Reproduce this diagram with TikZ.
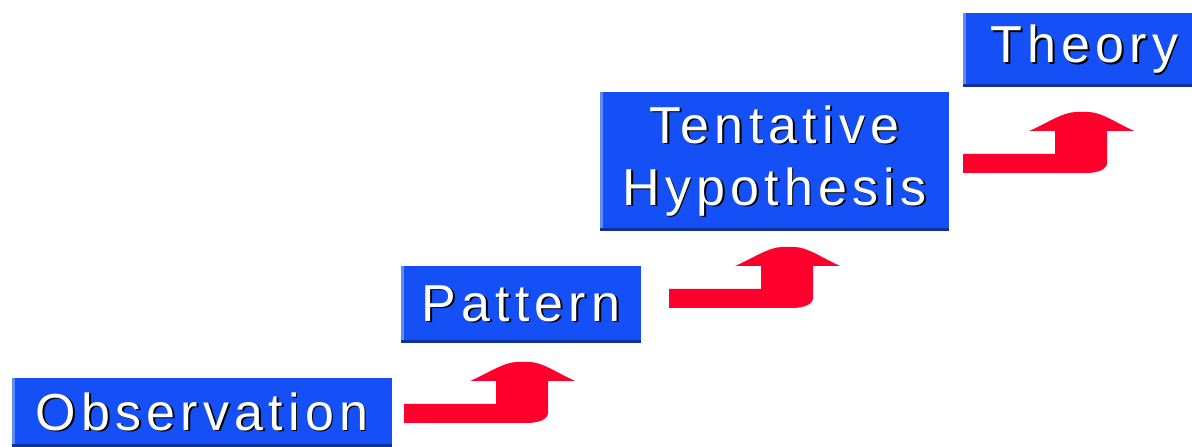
\documentclass[tikz,border=0pt]{standalone}
\usepackage{fontspec}
\newfontfamily\boxfont[LetterSpace=10]{Liberation Sans}
\definecolor{boxblue}{RGB}{20,80,245}
\definecolor{boxlight}{RGB}{95,140,240}
\definecolor{boxdark}{RGB}{15,50,150}
\definecolor{arrowred}{RGB}{255,0,45}
% white lettering with a small black drop shadow
\newcommand\shtext[1]{\makebox[0pt][l]{\hspace{1.6pt}\raisebox{-1.6pt}{\color{black}#1}}{\color{white}#1}}
\tikzset{
  stepbox/.style={rectangle, fill=boxblue, inner sep=0pt, align=center,
    font=\boxfont\fontsize{52pt}{62pt}\selectfont,
    path picture={
      \fill[boxlight] (path picture bounding box.south west) rectangle ([xshift=3pt]path picture bounding box.north west);
      \fill[boxdark] (path picture bounding box.south west) rectangle ([yshift=3pt]path picture bounding box.south east);
    }},
  steparrow/.pic={
    \fill[arrowred] (0,0) -- (0,19) -- (92,19) -- (92,42) -- (66,42)
      .. controls (84,50) and (100,61) .. (113,61) -- (125,61)
      .. controls (138,61) and (153,50) .. (171,42) -- (144,42) -- (144,11)
      .. controls (144,4) and (136,0) .. (122,0) -- cycle;
  }
}
\begin{document}
\begin{tikzpicture}[x=1pt,y=1pt]
\useasboundingbox (0,0) rectangle (1192,447);
\node[stepbox, minimum width=380pt, minimum height=69pt] (obs) at (202,34.5) {\shtext{Observation}};
\node[stepbox, minimum width=240pt, minimum height=77pt] (pat) at (521,142.5) {\shtext{Pattern}};
\node[stepbox, minimum width=349pt, minimum height=139pt] (hyp) at (774.5,285.5) {\shtext{Tentative}\\\shtext{Hypothesis}};
\node[stepbox, minimum width=229pt, minimum height=74pt] (the) at (1077.5,397) {\hspace*{14pt}\shtext{Theory}};
\coordinate (a1) at ([xshift=12pt,yshift=-10.5pt]obs.east);
\coordinate (a2) at ([xshift=28pt,yshift=-3.5pt]pat.east);
\coordinate (a3) at ([xshift=14pt,yshift=-11.5pt]hyp.east);
\pic at (a1) {steparrow};
\pic at (a2) {steparrow};
\pic at (a3) {steparrow};
\end{tikzpicture}
\end{document}
